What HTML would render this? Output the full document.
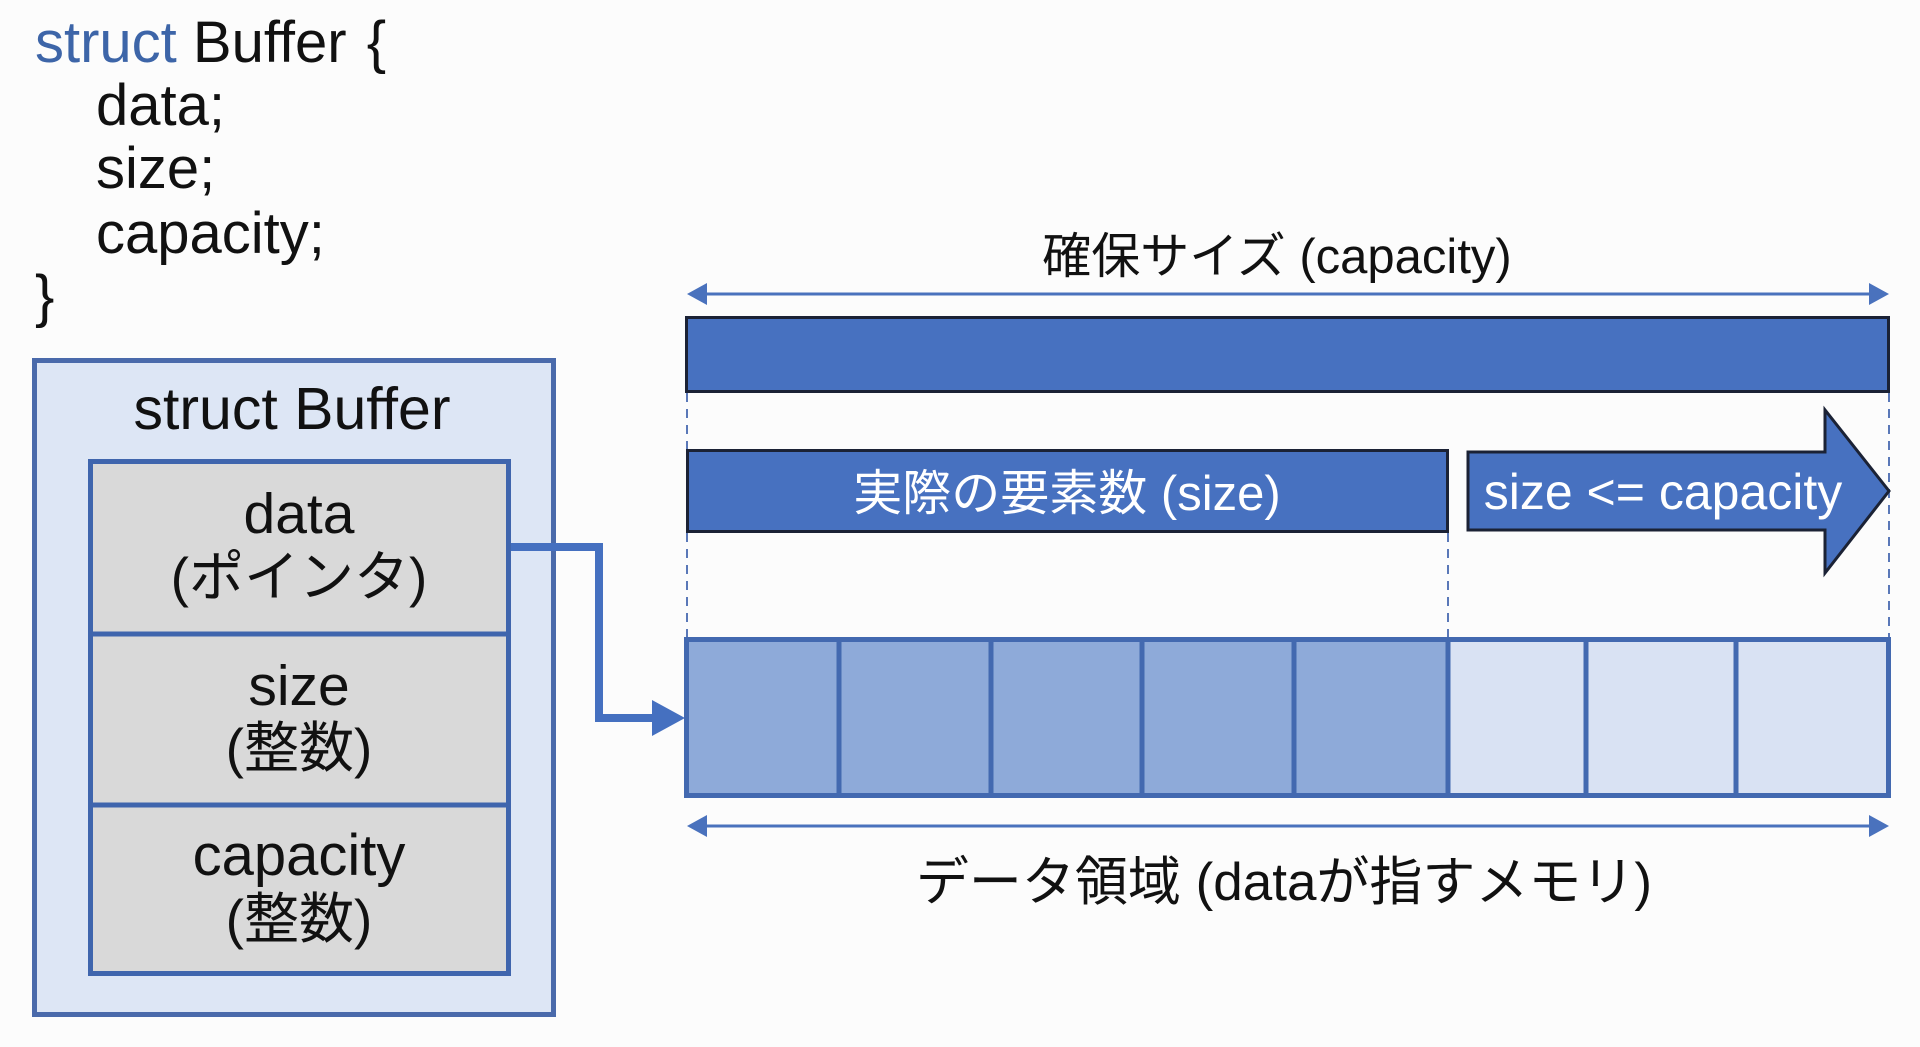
<!DOCTYPE html>
<html>
<head>
<meta charset="utf-8">
<style>
html,body{margin:0;padding:0;background:#fcfcfc;}
svg{display:block;}
text{font-family:"Liberation Sans","Noto Sans CJK JP",sans-serif;}
</style>
</head>
<body>
<svg width="1920" height="1047" viewBox="0 0 1920 1047" xmlns="http://www.w3.org/2000/svg">
<rect x="0" y="0" width="1920" height="1047" fill="#fcfcfc"/>

<!-- code -->
<text x="35" y="62" font-size="58" fill="#111"><tspan fill="#3d65a8">struct</tspan> Buffer <tspan dx="4">{</tspan></text>
<text x="96" y="125" font-size="58" fill="#111">data;</text>
<text x="96" y="188" font-size="58" fill="#111">size;</text>
<text x="96" y="253" font-size="58" fill="#111">capacity;</text>
<text x="35" y="316" font-size="58" fill="#111">}</text>

<!-- struct box -->
<rect x="34.5" y="360.5" width="519" height="654" fill="#dde6f5" stroke="#4a6aab" stroke-width="5"/>
<text x="292" y="429" font-size="59" fill="#111" text-anchor="middle">struct Buffer</text>
<rect x="90.5" y="461.5" width="418" height="512" fill="#d9d9d9" stroke="#3f65ad" stroke-width="5"/>
<line x1="88" y1="634" x2="511" y2="634" stroke="#3f65ad" stroke-width="5"/>
<line x1="88" y1="805" x2="511" y2="805" stroke="#3f65ad" stroke-width="5"/>
<text x="299" y="533" font-size="57" fill="#111" text-anchor="middle">data</text>
<text x="299" y="596" font-size="55" fill="#111" text-anchor="middle">(ポインタ)</text>
<text x="299" y="705" font-size="57" fill="#111" text-anchor="middle">size</text>
<text x="299" y="767" font-size="55" fill="#111" text-anchor="middle">(整数)</text>
<text x="299" y="875" font-size="58" fill="#111" text-anchor="middle">capacity</text>
<text x="299" y="938" font-size="55" fill="#111" text-anchor="middle">(整数)</text>

<!-- connector -->
<path d="M511,547 H599 V718 H656" fill="none" stroke="#4570c0" stroke-width="8"/>
<polygon points="652,700 685,718 652,736" fill="#4570c0"/>

<!-- top label & arrow -->
<text x="1277" y="273" font-size="49" fill="#111" text-anchor="middle">確保サイズ (capacity)</text>
<line x1="700" y1="294" x2="1876" y2="294" stroke="#4a72bd" stroke-width="3"/>
<polygon points="687,294 707,283 707,305" fill="#4a72bd"/>
<polygon points="1889,294 1869,283 1869,305" fill="#4a72bd"/>

<!-- top bar -->
<rect x="686.5" y="317.5" width="1202" height="74" fill="#4771c0" stroke="#1b2235" stroke-width="3"/>

<!-- dashed lines -->
<g stroke="#5a78b8" stroke-width="2" stroke-dasharray="9 7" fill="none">
<line x1="687" y1="393" x2="687" y2="449"/>
<line x1="687" y1="533" x2="687" y2="637"/>
<line x1="1889" y1="393" x2="1889" y2="637"/>
<line x1="1448" y1="533" x2="1448" y2="637"/>
</g>

<!-- size bar -->
<rect x="687.5" y="450.5" width="760" height="81" fill="#4771c0" stroke="#1b2235" stroke-width="3"/>
<text x="1067" y="510" font-size="49" fill="#ffffff" text-anchor="middle">実際の要素数 (size)</text>

<!-- arrow shape -->
<polygon points="1468,452 1825,452 1825,410 1889,491 1825,573 1825,530 1468,530" fill="#4771c0" stroke="#1b2235" stroke-width="3" stroke-linejoin="miter"/>
<text x="1663" y="509" font-size="50" fill="#ffffff" text-anchor="middle">size &lt;= capacity</text>

<!-- memory cells -->
<rect x="686" y="639" width="762" height="157" fill="#8eaad9"/>
<rect x="1448" y="639" width="441" height="157" fill="#d9e2f3"/>
<rect x="686.5" y="639.5" width="1202" height="156" fill="none" stroke="#4369b0" stroke-width="5"/>
<g stroke="#4369b0" stroke-width="5">
<line x1="839" y1="637" x2="839" y2="798"/>
<line x1="991" y1="637" x2="991" y2="798"/>
<line x1="1142" y1="637" x2="1142" y2="798"/>
<line x1="1294" y1="637" x2="1294" y2="798"/>
<line x1="1448" y1="637" x2="1448" y2="798"/>
<line x1="1586" y1="637" x2="1586" y2="798"/>
<line x1="1736" y1="637" x2="1736" y2="798"/>
</g>

<!-- bottom arrow & label -->
<line x1="700" y1="826" x2="1876" y2="826" stroke="#4a72bd" stroke-width="3"/>
<polygon points="687,826 707,815 707,837" fill="#4a72bd"/>
<polygon points="1889,826 1869,815 1869,837" fill="#4a72bd"/>
<text x="1284" y="900" font-size="53" fill="#111" text-anchor="middle">データ領域 (dataが指すメモリ)</text>
</svg>
</body>
</html>
